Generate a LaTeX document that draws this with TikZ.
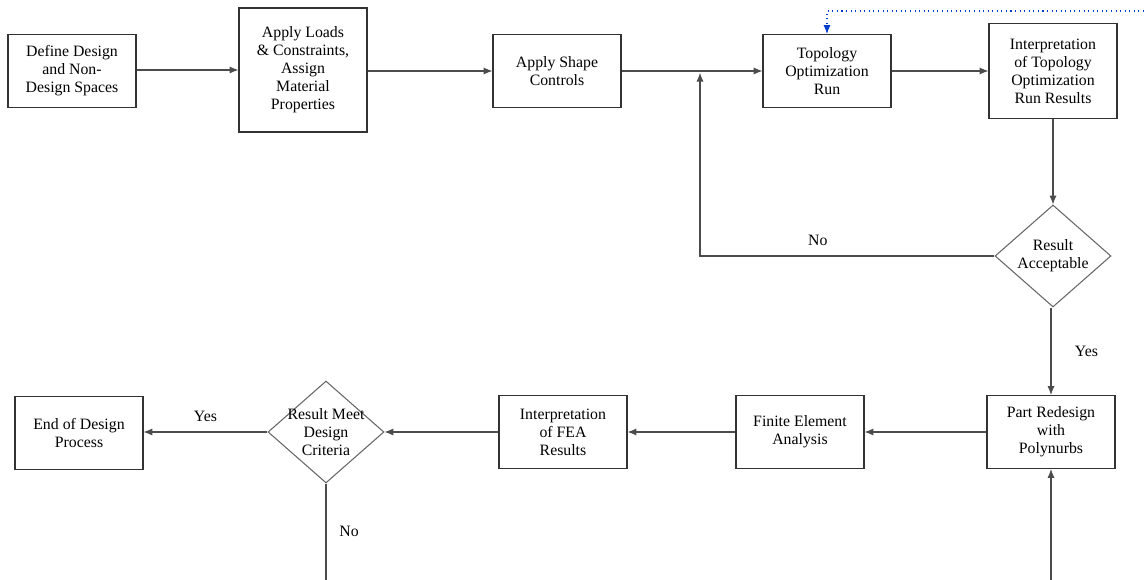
\documentclass[tikz,border=0pt]{standalone}
\usepackage{fontspec}
\setmainfont{Liberation Serif}
\usetikzlibrary{arrows.meta,positioning,shapes.geometric}

\begin{document}
\begin{tikzpicture}[
    x=0.02cm,y=-0.02cm,
    b/.style={draw=black!80,line width=0.6pt,minimum width=2.56cm,minimum height=1.46cm,align=center,inner sep=2pt,font=\rmfamily\fontsize{9}{10.3}\selectfont},
    dec/.style={draw=black!60,line width=0.6pt,diamond,aspect=1.14,inner sep=-0.12cm,minimum width=2.32cm,minimum height=2.04cm,align=center,font=\rmfamily\fontsize{9}{10.3}\selectfont},
    lbl/.style={font=\rmfamily\fontsize{9}{10.3}\selectfont},
    line/.style={draw=black!70,line width=0.6pt},
    loop/.style={draw=blue!70!cyan!80!black,line width=0.6pt,dotted},
    >={Latex[length=5pt,width=4pt]}
  ]
    \useasboundingbox (0,0) rectangle (1144,580);

    % top row
    \node[b] (define) at (72,71) {Define Design\\and Non-\\Design Spaces};
    \node[b,minimum height=2.48cm] (loads) at (303,70) {Apply Loads\\\& Constraints,\\Assign\\Material\\Properties};
    \node[b] (shape) at (557,71) {Apply Shape\\Controls};
    \node[b] (topo) at (827,71) {Topology\\Optimization\\Run};
    \node[b,minimum height=1.9cm] (interp) at (1053,71) {Interpretation\\of Topology\\Optimization\\Run Results};
    \node[dec] (accept) at (1053,256) {Result\\Acceptable};

    % bottom row
    \node[b] (redesign) at (1051,432) {Part Redesign\\with\\Polynurbs};
    \node[b] (fea) at (800,432) {Finite Element\\Analysis};
    \node[b] (interpfea) at (563,432) {Interpretation\\of FEA\\Results};
    \node[dec] (meet) at (326,432) {Result Meet\\Design\\Criteria};
    \node[b] (endproc) at (79,433) {End of Design\\Process};

    \coordinate (join) at (700,71);
    \coordinate (outA) at (326,580);
    \coordinate (outB) at (1051,580);
    \coordinate (loopR) at (1144,11);

    \draw[line,->] (define.east |- loads) -- (loads);
    \draw[line,->] (loads.east |- shape) -- (shape);
    \draw[line,->] (shape) -- (topo);
    \draw[line,->] (topo) -- (interp);
    \draw[line,->] (interp) -- (accept);
    \draw[line,->,shorten >=1pt] (accept.west) -| node[lbl,pos=0.3,above=2pt]{No} (join);
    \draw[line,->] (accept.south -| redesign) -- node[lbl,right=10pt]{Yes} (redesign);
    \draw[line,->] (redesign) -- (fea);
    \draw[line,->] (fea) -- (interpfea);
    \draw[line,->] (interpfea) -- (meet);
    \draw[line,->] (meet) -- node[lbl,above=2pt]{Yes} (endproc.east |- meet);
    \draw[line] (meet.south) -- node[lbl,right=4pt]{No} (outA);
    \draw[line,->] (outB) -- (redesign);
    \draw[loop,->] (loopR) -| (topo);
  \end{tikzpicture}
\end{document}
